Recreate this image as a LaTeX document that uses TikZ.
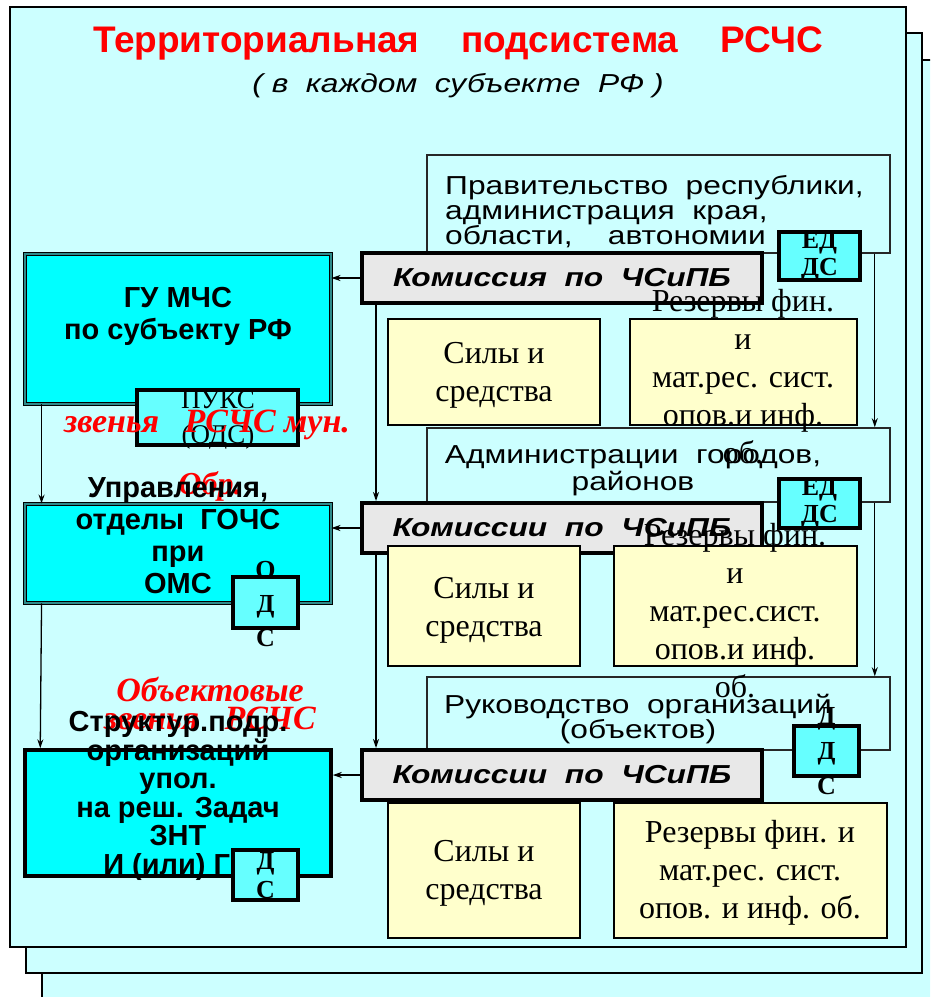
\documentclass[tikz,border=0pt]{standalone}
\usepackage{fontspec}
\setmainfont{Liberation Serif}
\newfontfamily\arial{Liberation Sans}
\newfontfamily\arialwide[FakeStretch=1.22]{Liberation Sans}
\usetikzlibrary{arrows.meta}
\definecolor{bgcyan}{HTML}{CCFFFF}
\definecolor{mcyan}{HTML}{00FFFF}
\definecolor{ddscyan}{HTML}{66FFFF}
\definecolor{resyellow}{HTML}{FFFFCC}
\definecolor{komgray}{HTML}{E8E8E8}
\definecolor{tealband}{HTML}{2E8B8B}
\tikzset{
  pagebox/.style={draw=black, line width=2.5pt, fill=bgcyan},
  orgbox/.style={draw=black!85, line width=1.6pt, fill=bgcyan, inner sep=0pt},
  komis/.style={draw=black, line width=4pt, fill=komgray, inner sep=0pt,
    minimum width=400pt, minimum height=50pt,
    font=\arialwide\bfseries\itshape\fontsize{26}{28}\selectfont},
  ddsbox/.style={draw=black, line width=3.5pt, fill=ddscyan, inner sep=0pt},
  mchs/.style={draw=black, line width=0.9pt, double=tealband, double distance=2.6pt,
    fill=mcyan, inner sep=0pt},
  resbox/.style={draw=black, line width=2pt, fill=resyellow, inner sep=0pt},
  ddstxt/.style={align=center, inner sep=0pt, font=\bfseries\fontsize{26}{27}\selectfont},
  timestxt/.style={align=center, inner sep=0pt, font=\fontsize{32}{38}\selectfont},
  ariatxt/.style={inner sep=0pt, font=\arialwide\fontsize{26}{25}\selectfont},
  boldtxt/.style={align=center, inner sep=0pt, font=\arial\bfseries\fontsize{29}{32}\selectfont},
  redtxt/.style={align=center, inner sep=0pt, text=red,
    font=\bfseries\itshape\fontsize{34}{28}\selectfont}
}
\begin{document}
\begin{tikzpicture}[x=1pt, y=-1pt]
  \useasboundingbox (0,0) rectangle (930,997);
  \clip (0,0) rectangle (930,997);
  \draw[pagebox] (42,60) rectangle (960,1020);
  \draw[pagebox] (26,33) rectangle (922,973);
  \draw[pagebox] (10,7) rectangle (906,947);

  \node[inner sep=0pt, text=red, font=\arial\bfseries\fontsize{37}{40}\selectfont, anchor=base]
    (title) at (458,52) {Территориальная\hspace{42pt}подсистема\hspace{42pt}РСЧС};
  \node[inner sep=0pt, font=\arialwide\itshape\fontsize{26}{30}\selectfont, anchor=base]
    (subtitle) at (458,92) {( в~~каждом~~субъекте~~РФ )};

  \node[orgbox, minimum width=463pt, minimum height=98pt] (govt) at (658.5,204) {};
  \node[orgbox, minimum width=463pt, minimum height=74pt] (adm) at (658.5,465) {};
  \node[orgbox, minimum width=463pt, minimum height=73pt] (ruk) at (658.5,713.5) {};
  \node[ariatxt, align=left, anchor=west] (govttxt) at (445,212)
    {Правительство~~республики,\\администрация~~края,\\области,~~~~автономии};
  \node[ariatxt, align=center, font=\arialwide\fontsize{26}{27}\selectfont] (admtxt) at (633,471)
    {Администрации~~городов,\\районов};
  \node[ariatxt, align=center] (ruktxt) at (638,719) {Руководство~~организаций\\(объектов)};

  \begin{scope}[-{Stealth[length=9pt,width=6pt]}, line width=1.3pt]
    \draw ([xshift=-16pt]govt.south east) to ([xshift=-16pt]adm.north east);
    \draw ([xshift=-16pt]adm.south east) to ([xshift=-16pt]ruk.north east);
  \end{scope}

  \node[ddsbox, minimum width=81pt, minimum height=48pt] (edds1) at (819.5,256) {};
  \node[ddstxt] (edds1txt) at (edds1.center) {ЕД\\ДС};
  \node[ddsbox, minimum width=81pt, minimum height=49pt] (edds2) at (819.5,503.5) {};
  \node[ddstxt] (edds2txt) at (edds2.center) {ЕД\\ДС};
  \node[ddsbox, minimum width=65pt, minimum height=50pt] (dds3) at (826.5,751) {};
  \node[ddstxt, font=\bfseries\fontsize{26}{35}\selectfont] (dds3txt) at (dds3.center) {Д\\Д\\С};

  \node[komis] (kom1) at (562,278) {Комиссия~~по~~ЧСиПБ};
  \node[komis] (kom2) at (562,528) {Комиссии~~по~~ЧСиПБ};
  \node[komis] (kom3) at (562,775) {Комиссии~~по~~ЧСиПБ};

  \node[mchs, minimum width=306pt, minimum height=150pt] (gu) at (178,329) {};
  \node[mchs, minimum width=306pt, minimum height=99pt] (upr) at (178,553.5) {};
  \node[draw=black, line width=3.5pt, fill=mcyan, minimum width=306pt, minimum height=126pt]
    (str) at (178,813) {};
  \node[boldtxt] (gutxt) at (178,316) {ГУ МЧС\\по субъекту РФ};

  \begin{scope}[-{Stealth[length=9pt,width=6pt]}, line width=1.3pt]
    \draw ([xshift=16pt]kom1.south west) to ([xshift=16pt]kom2.north west);
    \draw ([xshift=16pt]kom2.south west) to ([xshift=16pt]kom3.north west);
    \draw ([xshift=17pt]gu.south west) to ([xshift=17pt]upr.north west);
    \draw ([xshift=17pt]upr.south west) to ([xshift=17pt]str.north west);
    \draw (kom1.west) to (kom1.west -| gu.east);
    \draw (kom2.west) to (kom2.west -| upr.east);
    \draw (kom3.west) to (kom3.west -| str.east);
  \end{scope}

  \node[ddsbox, minimum width=161pt, minimum height=55pt] (puks) at (217.5,417.5) {};
  \node[ddstxt, font=\fontsize{27}{35}\selectfont] (pukstxt) at (218,420) {ПУКС\\(ОДС)};
  \node[redtxt] (zvmun) at (207,425) {звенья~~~РСЧС мун.};

  \node[redtxt, font=\bfseries\itshape\fontsize{32}{34}\selectfont] (obr) at (210,486) {Обр.};
  \node[boldtxt] (uprtxt) at (178,536)
    {Управления,\\отделы~~ГОЧС\\при\\ОМС};
  \node[ddsbox, minimum width=65pt, minimum height=51pt] (ods2) at (265.5,602.5) {};
  \node[ddstxt, font=\bfseries\fontsize{26}{34}\selectfont] (ods2txt) at (265.5,604) {О\\Д\\С};

  \node[redtxt] (objzv) at (210,703) {Объектовые\\звенья~~~РСЧС};
  \node[boldtxt, font=\arial\bfseries\fontsize{29}{28.5}\selectfont] (strtxt) at (178,796)
    {Структур.подр.\\организаций\\упол.\\на реш. Задач\\ЗНТ\\И (или) Г\phantom{О}};
  \node[ddsbox, minimum width=65pt, minimum height=50pt] (ds3) at (265.5,875) {};
  \node[ddstxt, font=\bfseries\fontsize{26}{29}\selectfont] (ds3txt) at (265.5,876) {Д\\С};

  \node[resbox, minimum width=212pt, minimum height=106pt] (sily1) at (494,372) {};
  \node[resbox, minimum width=227pt, minimum height=106pt] (rez1) at (743.5,372) {};
  \node[resbox, minimum width=192pt, minimum height=120pt] (sily2) at (484,606) {};
  \node[resbox, minimum width=243pt, minimum height=120pt] (rez2) at (735.5,606) {};
  \node[resbox, minimum width=192pt, minimum height=135pt] (sily3) at (484,870.5) {};
  \node[resbox, minimum width=273pt, minimum height=135pt] (rez3) at (750.5,870.5) {};

  \node[timestxt] (sily1txt) at (494,375) {Силы и\\средства};
  \node[timestxt] (sily2txt) at (484,610) {Силы и\\средства};
  \node[timestxt] (sily3txt) at (484,873) {Силы и\\средства};
  \node[timestxt] (rez1txt) at (743,377) {Резервы фин.\\и\\мат.рес. сист.\\опов.и инф.\\об.};
  \node[timestxt] (rez2txt) at (735,611) {Резервы фин.\\и\\мат.рес.сист.\\опов.и инф.\\об.};
  \node[timestxt] (rez3txt) at (750,873) {Резервы фин. и\\мат.рес. сист.\\опов. и инф. об.};
\end{tikzpicture}
\end{document}
